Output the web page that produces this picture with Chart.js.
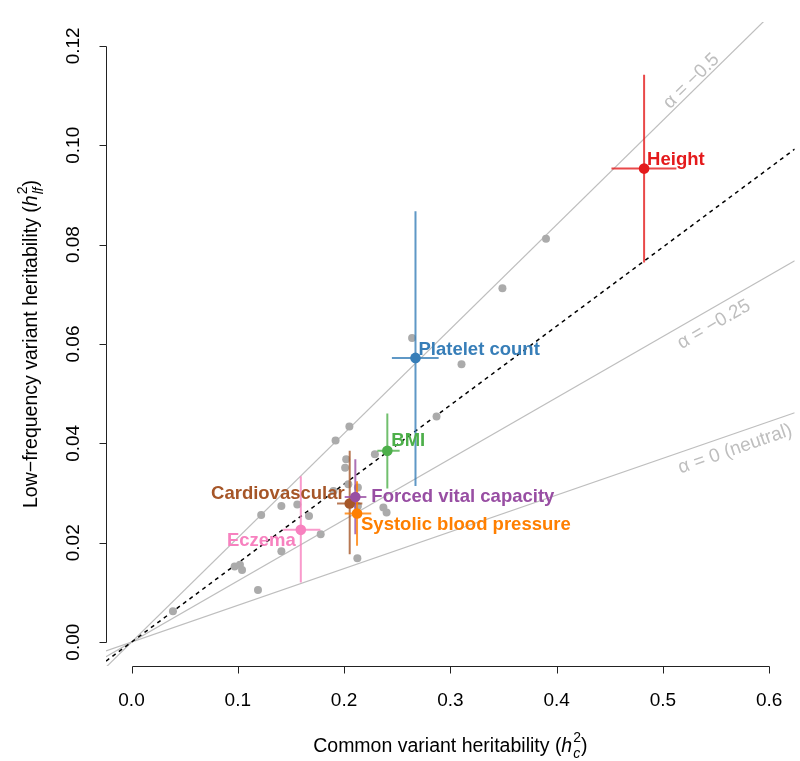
<!DOCTYPE html>
<html>
<head>
<meta charset="utf-8">
<script src="https://cdn.jsdelivr.net/npm/chart.js@4.4.0/dist/chart.umd.min.js"></script>
<style>
html, body { margin: 0; padding: 0; background: #fff; }
#wrap { width: 800px; height: 761px; }
</style>
</head>
<body>
<div id="wrap"><canvas id="graphCanvas" width="800" height="761"></canvas></div>
<script>
// other traits (grey dots)
let grayX = [0.039, 0.097, 0.102, 0.104, 0.119, 0.122, 0.141, 0.141, 0.156, 0.167, 0.178, 0.190,
             0.192, 0.205, 0.202, 0.201, 0.204, 0.213, 0.213, 0.229, 0.237, 0.240, 0.2125,
             0.264, 0.287, 0.3105, 0.349, 0.390];
let grayY = [0.0062, 0.0152, 0.0156, 0.0145, 0.0105, 0.0256, 0.0274, 0.0183, 0.0277, 0.0254, 0.0217, 0.0304,
             0.0406, 0.0434, 0.0368, 0.0351, 0.0318, 0.0311, 0.0274, 0.0378, 0.0271, 0.0261, 0.0169,
             0.0612, 0.0454, 0.0559, 0.0712, 0.0812];

// highlighted traits
let traitNames = ['Height', 'Platelet count', 'BMI', 'Cardiovascular', 'Forced vital capacity', 'Systolic blood pressure', 'Eczema'];
let traitColors = ['#E41A1C', '#377EB8', '#4DAF4A', '#A65628', '#984EA3', '#FF7F00', '#F781BF'];
let traitX = [0.4823, 0.2672, 0.2407, 0.2053, 0.2106, 0.2122, 0.1593];
let traitY = [0.0953, 0.0572, 0.0385, 0.0279, 0.0292, 0.0259, 0.0226];
let traitXLow = [0.4516, 0.245, 0.2313, 0.1934, 0.2006, 0.2006, 0.1427];
let traitXHigh = [0.5127, 0.289, 0.2523, 0.2172, 0.221, 0.2256, 0.1777];
let traitYLow = [0.0764, 0.0314, 0.0309, 0.0177, 0.0217, 0.0194, 0.0120];
let traitYHigh = [0.1142, 0.0867, 0.0460, 0.0385, 0.0368, 0.0324, 0.0334];

// reference lines through the origin
let lineSlopes = [0.21, 0.123, 0.074];
let lineLabels = ['\u03B1 = \u22120.5', '\u03B1 = \u22120.25', '\u03B1 = 0 (neutral)'];
let fitSlope = 0.159;

let xTicks = [0, 0.1, 0.2, 0.3, 0.4, 0.5, 0.6];
let yTicks = [0, 0.02, 0.04, 0.06, 0.08, 0.10, 0.12];

// label placement (pixels, relative to the point)
let labelDx = [3, 3, 4, -5, 16, 4, -5];
let labelDy = [-9, -8, -10, -10, 0, 11, 11];
let labelAlign = ['left', 'left', 'left', 'right', 'left', 'left', 'right'];
// where along each reference line its label sits, and the offset from the line
let lineLabelX = [0.532, 0.541, 0.5634];
let lineLabelOffset = [-8, 15, 15];

let xMin = -0.024, xMax = 0.624;
let yMin = -0.0048, yMax = 0.1248;

const FONT = '"Liberation Sans", Arial, Helvetica, sans-serif';

function lineData(slope) {
    return [{x: xMin, y: slope * xMin}, {x: xMax, y: slope * xMax}];
}

let datasets = [];
datasets.push({
    type: 'scatter',
    label: 'traits',
    data: traitX.map((v, i) => ({x: v, y: traitY[i]})),
    pointBackgroundColor: traitColors,
    pointBorderColor: traitColors,
    pointRadius: 5.3,
    pointBorderWidth: 0
});
datasets.push({
    type: 'scatter',
    label: 'other',
    data: grayX.map((v, i) => ({x: v, y: grayY[i]})),
    pointBackgroundColor: '#ABABAB',
    pointBorderColor: '#ABABAB',
    pointRadius: 4,
    pointBorderWidth: 0
});
datasets.push({
    type: 'line',
    label: 'fit',
    data: lineData(fitSlope),
    borderColor: '#000',
    borderWidth: 1.5,
    borderDash: [4, 4],
    pointRadius: 0,
    fill: false
});
lineSlopes.forEach((s, i) => {
    datasets.push({
        type: 'line',
        label: lineLabels[i],
        data: lineData(s),
        borderColor: '#BEBEBE',
        borderWidth: 1.2,
        pointRadius: 0,
        fill: false
    });
});

// error bars under the coloured points
const errorBars = {
    id: 'errorBars',
    beforeDatasetDraw(chart, args) {
        if (args.index !== 0) return;
        const {ctx, scales: {x, y}} = chart;
        ctx.save();
        ctx.lineWidth = 2;
        ctx.globalAlpha = 0.8;
        traitX.forEach((v, i) => {
            ctx.strokeStyle = traitColors[i];
            ctx.beginPath();
            let px = x.getPixelForValue(v), py = y.getPixelForValue(traitY[i]);
            ctx.moveTo(px, y.getPixelForValue(traitYLow[i]));
            ctx.lineTo(px, y.getPixelForValue(traitYHigh[i]));
            ctx.moveTo(x.getPixelForValue(traitXLow[i]), py);
            ctx.lineTo(x.getPixelForValue(traitXHigh[i]), py);
            ctx.stroke();
        });
        ctx.restore();
    }
};

function drawMath(ctx, pre, base, sup, sub, post, size) {
    // draws centred at (0,0) on the baseline
    ctx.font = size + 'px ' + FONT;
    let wPre = ctx.measureText(pre).width;
    let wPost = ctx.measureText(post).width;
    ctx.font = 'italic ' + size + 'px ' + FONT;
    let wBase = ctx.measureText(base).width;
    ctx.font = Math.round(size * 0.7) + 'px ' + FONT;
    let wSup = ctx.measureText(sup).width;
    ctx.font = 'italic ' + Math.round(size * 0.7) + 'px ' + FONT;
    let wSub = ctx.measureText(sub).width;
    let wScr = Math.max(wSup, wSub) + 1;
    let total = wPre + wBase + wScr + wPost;
    let cx = -total / 2;
    ctx.textAlign = 'left';
    ctx.textBaseline = 'alphabetic';
    ctx.font = size + 'px ' + FONT;
    ctx.fillText(pre, cx, 0); cx += wPre;
    ctx.font = 'italic ' + size + 'px ' + FONT;
    ctx.fillText(base, cx, 0); cx += wBase;
    ctx.font = Math.round(size * 0.7) + 'px ' + FONT;
    ctx.fillText(sup, cx + 1, -size * 0.5);
    ctx.font = 'italic ' + Math.round(size * 0.7) + 'px ' + FONT;
    ctx.fillText(sub, cx + 1, size * 0.3);
    cx += wScr;
    ctx.font = size + 'px ' + FONT;
    ctx.fillText(post, cx, 0);
}

const decorations = {
    id: 'decorations',
    afterDraw(chart) {
        const {ctx, scales: {x, y}, chartArea} = chart;
        ctx.save();
        ctx.fillStyle = '#000';
        ctx.strokeStyle = '#222';
        ctx.lineWidth = 1;

        // x axis
        let yb = chartArea.bottom + 0.5;
        ctx.beginPath();
        ctx.moveTo(Math.round(x.getPixelForValue(xTicks[0])) + 0.5, yb);
        ctx.lineTo(Math.round(x.getPixelForValue(xTicks[xTicks.length - 1])) + 0.5, yb);
        xTicks.forEach(t => {
            let px = Math.round(x.getPixelForValue(t)) + 0.5;
            ctx.moveTo(px, yb);
            ctx.lineTo(px, yb + 7);
        });
        // y axis
        let xl = chartArea.left + 0.5;
        ctx.moveTo(xl, Math.round(y.getPixelForValue(yTicks[0])) + 0.5);
        ctx.lineTo(xl, Math.round(y.getPixelForValue(yTicks[yTicks.length - 1])) + 0.5);
        yTicks.forEach(t => {
            let py = Math.round(y.getPixelForValue(t)) + 0.5;
            ctx.moveTo(xl, py);
            ctx.lineTo(xl - 7, py);
        });
        ctx.stroke();

        ctx.font = '19px ' + FONT;
        ctx.textAlign = 'center';
        ctx.textBaseline = 'alphabetic';
        xTicks.forEach(t => {
            ctx.fillText(t.toFixed(1), x.getPixelForValue(t), chartArea.bottom + 40);
        });
        yTicks.forEach(t => {
            ctx.save();
            ctx.translate(chartArea.left - 27, y.getPixelForValue(t));
            ctx.rotate(-Math.PI / 2);
            ctx.fillText(t.toFixed(2), 0, 0);
            ctx.restore();
        });

        // axis titles
        ctx.save();
        ctx.translate((chartArea.left + chartArea.right) / 2, chartArea.bottom + 86);
        drawMath(ctx, 'Common variant heritability (', 'h', '2', 'c', ')', 19.5);
        ctx.restore();
        ctx.save();
        ctx.translate(chartArea.left - 69, (chartArea.top + chartArea.bottom) / 2);
        ctx.rotate(-Math.PI / 2);
        drawMath(ctx, 'Low\u2212frequency variant heritability (', 'h', '2', 'lf', ')', 19.5);
        ctx.restore();

        // reference line labels
        let kx = (x.getPixelForValue(1) - x.getPixelForValue(0));
        let ky = (y.getPixelForValue(0) - y.getPixelForValue(1));
        ctx.fillStyle = '#BEBEBE';
        ctx.font = '19px ' + FONT;
        ctx.textAlign = 'center';
        ctx.textBaseline = 'middle';
        lineSlopes.forEach((s, i) => {
            let ang = Math.atan(s * ky / kx);
            let px = x.getPixelForValue(lineLabelX[i]);
            let py = y.getPixelForValue(s * lineLabelX[i]);
            ctx.save();
            ctx.translate(px, py);
            ctx.rotate(-ang);
            ctx.fillText(lineLabels[i], 0, lineLabelOffset[i]);
            ctx.restore();
        });

        // trait labels
        ctx.font = 'bold 18.5px ' + FONT;
        ctx.textBaseline = 'middle';
        traitNames.forEach((n, i) => {
            ctx.fillStyle = traitColors[i];
            ctx.textAlign = labelAlign[i];
            ctx.fillText(n, x.getPixelForValue(traitX[i]) + labelDx[i], y.getPixelForValue(traitY[i]) + labelDy[i]);
        });
        ctx.restore();
    }
};

let ctx = document.getElementById('graphCanvas').getContext('2d');
let chart = new Chart(ctx, {
    type: 'scatter',
    data: { datasets: datasets },
    options: {
        responsive: false,
        animation: false,
        devicePixelRatio: 1,
        layout: { padding: { left: 106, right: 2, top: 22, bottom: 95 } },
        plugins: { legend: { display: false }, tooltip: { enabled: false } },
        scales: {
            x: { type: 'linear', min: xMin, max: xMax, display: false },
            y: { type: 'linear', min: yMin, max: yMax, display: false }
        }
    },
    plugins: [errorBars, decorations]
});
</script>
</body>
</html>
